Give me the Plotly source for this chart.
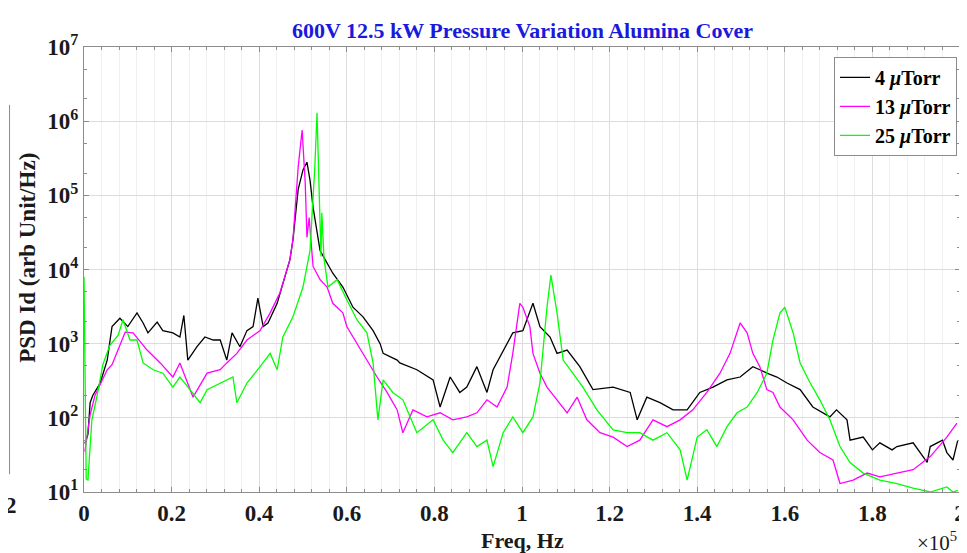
import plotly.graph_objects as go

# frequency in units of 1e5 Hz, PSD in arb. units/Hz
f_4 = [0.002, 0.009, 0.014, 0.020, 0.037, 0.053, 0.064, 0.082, 0.100, 0.121, 0.135, 0.146, 0.167, 0.180,
       0.203, 0.219, 0.228, 0.237, 0.258, 0.276, 0.295, 0.311, 0.326, 0.338, 0.356, 0.372, 0.386, 0.397,
       0.409, 0.420, 0.441, 0.454, 0.470, 0.477, 0.489, 0.500, 0.509, 0.516, 0.523, 0.539, 0.568, 0.591,
       0.614, 0.637, 0.660, 0.676, 0.683, 0.715, 0.721, 0.760, 0.797, 0.813, 0.836, 0.858, 0.874, 0.897,
       0.920, 0.934, 0.957, 0.979, 1.002, 1.025, 1.041, 1.064, 1.080, 1.103, 1.132, 1.162, 1.208, 1.247,
       1.263, 1.285, 1.315, 1.345, 1.377, 1.406, 1.436, 1.468, 1.498, 1.527, 1.543, 1.559, 1.582, 1.605,
       1.635, 1.664, 1.703, 1.718, 1.742, 1.749, 1.779, 1.800, 1.817, 1.845, 1.856, 1.893, 1.925, 1.932,
       1.960, 1.970, 1.984, 1.995]
psd_4 = [45, 60, 160, 200, 295, 600, 1700, 2200, 1700, 2600, 1900, 1400, 1950, 1500,
         1400, 1230, 2400, 600, 910, 1230, 1120, 1120, 600, 1400, 910, 1500, 1700, 4100,
         1700, 1900, 3500, 6600, 13500, 25000, 120000, 220000, 280000, 160000, 69000, 18000, 8900, 5800,
         3100, 2300, 1500, 1000, 740, 600, 550, 445, 325, 140, 355, 220, 260, 490,
         220, 445, 820, 1400, 1500, 3500, 1700, 1230, 740, 820, 490, 240, 260, 220,
         94, 190, 160, 128, 128, 220, 260, 325, 355, 490, 445, 400, 355, 295,
         240, 140, 103, 128, 94, 50, 55, 37, 46, 37, 41, 46, 25, 41,
         50, 34, 27, 50]

f_13 = [0.002, 0.014, 0.025, 0.037, 0.053, 0.064, 0.082, 0.094, 0.112, 0.144, 0.174, 0.203, 0.219, 0.249,
        0.281, 0.311, 0.326, 0.349, 0.372, 0.402, 0.425, 0.447, 0.470, 0.477, 0.489, 0.498, 0.505, 0.509,
        0.514, 0.523, 0.539, 0.555, 0.568, 0.591, 0.600, 0.623, 0.646, 0.669, 0.692, 0.715, 0.728, 0.751,
        0.783, 0.813, 0.842, 0.874, 0.897, 0.920, 0.943, 0.966, 0.979, 0.995, 1.002, 1.018, 1.025, 1.041,
        1.057, 1.080, 1.103, 1.126, 1.148, 1.178, 1.208, 1.240, 1.269, 1.299, 1.331, 1.361, 1.390, 1.422,
        1.452, 1.475, 1.498, 1.514, 1.527, 1.543, 1.559, 1.573, 1.589, 1.619, 1.651, 1.680, 1.710, 1.726,
        1.756, 1.788, 1.817, 1.856, 1.893, 1.932, 1.970, 1.993]
psd_13 = [35, 110, 200, 280, 445, 520, 950, 1430, 1400, 820, 550, 355, 550, 190,
          400, 445, 550, 740, 1120, 1500, 2600, 4800, 13500, 25000, 240000, 760000, 150000, 27000,
          50000, 11000, 7300, 5800, 3500, 2600, 1700, 1000, 600, 355, 220, 128, 63, 128,
          103, 117, 94, 103, 117, 175, 140, 260, 740, 3500, 3100, 1700, 740, 400,
          260, 175, 117, 190, 94, 63, 55, 41, 50, 94, 76, 94, 128, 220,
          400, 740, 1900, 1400, 740, 490, 240, 220, 140, 94, 50, 34, 27, 13,
          14.5, 18, 16, 18, 20, 30, 55, 85]

f_25 = [0.000, 0.005, 0.009, 0.018, 0.030, 0.043, 0.059, 0.078, 0.089, 0.105, 0.121, 0.135, 0.158, 0.180,
        0.203, 0.219, 0.242, 0.265, 0.281, 0.311, 0.340, 0.349, 0.372, 0.402, 0.425, 0.441, 0.454, 0.477,
        0.500, 0.516, 0.527, 0.532, 0.537, 0.541, 0.543, 0.548, 0.557, 0.578, 0.600, 0.623, 0.646, 0.660,
        0.671, 0.683, 0.705, 0.728, 0.760, 0.797, 0.820, 0.842, 0.874, 0.897, 0.920, 0.934, 0.957, 0.979,
        1.002, 1.025, 1.041, 1.057, 1.066, 1.080, 1.094, 1.116, 1.139, 1.171, 1.208, 1.240, 1.269, 1.299,
        1.331, 1.361, 1.377, 1.400, 1.422, 1.445, 1.468, 1.491, 1.514, 1.537, 1.559, 1.573, 1.589, 1.600,
        1.619, 1.635, 1.658, 1.680, 1.703, 1.726, 1.749, 1.779, 1.817, 1.856, 1.893, 1.932, 1.970, 1.984,
        1.995]
psd_25 = [8000, 15, 14.5, 94, 200, 520, 950, 1300, 2100, 1120, 1120, 550, 445, 400,
          260, 355, 240, 160, 240, 295, 355, 160, 295, 490, 740, 445, 1230, 2300,
          5800, 18000, 240000, 1300000, 69000, 15000, 58000, 14000, 5800, 7300, 3900, 2100, 1400, 550,
          94, 325, 220, 175, 63, 94, 50, 34, 63, 41, 50, 22, 63, 103,
          63, 103, 295, 3100, 8400, 2600, 600, 400, 260, 128, 69, 63, 63, 50,
          63, 37, 14.5, 55, 69, 41, 76, 117, 140, 220, 400, 1120, 2600, 3100,
          1400, 550, 295, 175, 94, 41, 25, 18, 14.5, 13, 11.3, 10, 11.7, 10,
          10.5]

series_names = ["4 <i>\u03bc</i>Torr", "13 <i>\u03bc</i>Torr", "25 <i>\u03bc</i>Torr"]
series_colors = ["#000000", "#ff00ff", "#00ff00"]

x_ticks = [0, 0.2, 0.4, 0.6, 0.8, 1.0, 1.2, 1.4, 1.6, 1.8, 2.0]
x_tick_labels = ["0", "0.2", "0.4", "0.6", "0.8", "1", "1.2", "1.4", "1.6", "1.8", "2"]
y_ticks = [1e1, 1e2, 1e3, 1e4, 1e5, 1e6, 1e7]
y_tick_labels = ["10<sup>%d</sup>" % k for k in range(1, 8)]

FONT = "Liberation Serif"
TXT = "#1a1a1a"
fig = go.Figure()
for fx, py, nm, col in zip([f_4, f_13, f_25], [psd_4, psd_13, psd_25], series_names, series_colors):
    fig.add_trace(go.Scatter(x=fx, y=py, mode="lines", name=nm,
                             line=dict(color=col, width=1.3)))

axis_common = dict(showline=True, mirror="ticks", linecolor="#8c8c8c", linewidth=1,
                   ticks="inside", ticklen=5, tickcolor="#8c8c8c", automargin=False,
                   tickfont=dict(family=FONT, size=23, color=TXT, weight="bold"),
                   zeroline=False)

fig.update_xaxes(range=[0, 2], tickvals=x_ticks, ticktext=x_tick_labels,
                 showgrid=True, gridcolor="#dcdcdc", gridwidth=1,
                 minor=dict(dtick=0.04, showgrid=True, gridcolor="#f0f0f0", ticks="inside",
                            ticklen=3, tickcolor="#8c8c8c"),
                 **axis_common)
fig.update_yaxes(type="log", range=[1, 7], tickvals=y_ticks, ticktext=y_tick_labels,
                 showgrid=True, gridcolor="#dcdcdc", gridwidth=1,
                 minor=dict(ticks="inside", ticklen=3, tickcolor="#8c8c8c", showgrid=False),
                 **axis_common)

# the page body adds an 8px offset, so the figure is 8px smaller and the margins shifted
fig.update_layout(
    width=959, height=545,
    margin=dict(l=76, r=7, t=39, b=61, autoexpand=False),
    paper_bgcolor="white", plot_bgcolor="white",
    showlegend=True,
    legend=dict(x=0.9966, y=0.978, xanchor="right", yanchor="top",
                bgcolor="white", bordercolor="#8c8c8c", borderwidth=1,
                font=dict(family=FONT, size=20, color="#000000", weight="bold"),
                tracegroupgap=0, itemwidth=30),
    annotations=[
        dict(text="<b>600V 12.5 kW Pressure Variation Alumina Cover</b>", xref="paper", yref="paper",
             x=0.5, y=1.038, xanchor="center", yanchor="middle", showarrow=False,
             font=dict(family=FONT, size=22, color="#1a1adc")),
        dict(text="<b>PSD Id (arb Unit/Hz)</b>", xref="paper", yref="paper", textangle=-90,
             x=-0.064, y=0.526, xanchor="center", yanchor="middle", showarrow=False,
             font=dict(family=FONT, size=23, color=TXT)),
        dict(text="<b>Freq, Hz</b>", xref="paper", yref="paper",
             x=0.5, y=-0.11, xanchor="center", yanchor="middle", showarrow=False,
             font=dict(family=FONT, size=22, color=TXT)),
        dict(text="\u00d710<sup>5</sup>", xref="paper", yref="paper",
             x=0.974, y=-0.112, xanchor="center", yanchor="middle", showarrow=False,
             font=dict(family=FONT, size=21, color=TXT)),
        dict(text="<b>2</b>", xref="paper", yref="paper",
             x=-0.083, y=-0.03, xanchor="center", yanchor="middle", showarrow=False,
             font=dict(family=FONT, size=23, color=TXT)),
    ],
    shapes=[dict(type="line", xref="paper", yref="paper", x0=-0.085, x1=-0.085, y0=0.04, y1=0.87,
                 line=dict(color="#8c8c8c", width=1))],
)

fig.write_html("out.html")
